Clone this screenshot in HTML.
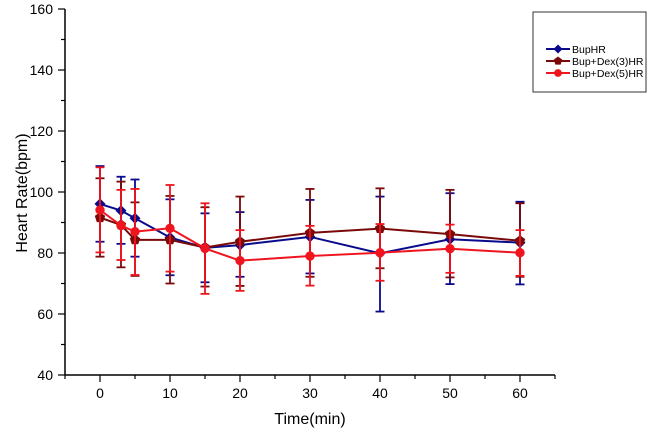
<!DOCTYPE html>
<html><head><meta charset="utf-8"><style>
html,body{margin:0;padding:0;background:#fff;}
svg{display:block;font-family:"Liberation Sans",Arial,sans-serif;}
</style></head><body>
<svg id="chart" width="650" height="433"></svg>
<script>
const times=[0,3,5,10,15,20,30,40,50,60];
const bupMean=[96.1,93.9,91.4,85.1,81.7,82.6,85.3,79.9,84.5,83.4];
const bupHi=[108.5,105,104.1,97.6,93,93.4,97.4,98.5,99.6,96.8];
const bupLo=[83.7,83,78.8,72.7,70.4,72.2,73.3,60.8,69.8,69.7];
const dex3Mean=[91.6,89.2,84.3,84.3,81.8,83.7,86.6,88,86.2,84];
const dex3Hi=[104.5,103.4,96.6,98.7,95,98.5,101,101.2,100.7,96.3];
const dex3Lo=[78.8,75.3,72.5,70,69,69.2,72.2,75,72,72.2];
const dex5Mean=[94.1,89,87,88.1,81.5,77.5,79,80.1,81.4,80.1];
const dex5Hi=[108.1,100.7,101,102.3,96.3,87.5,88.9,89.5,89.3,87.5];
const dex5Lo=[80.2,77.7,72.8,73.9,66.6,67.6,69.3,70.9,73.5,72.5];
const yTicks=[40,60,80,100,120,140,160];
const xTicks=[0,10,20,30,40,50,60];
const seriesNames=["BupHR","Bup+Dex(3)HR","Bup+Dex(5)HR"];

const NS="http://www.w3.org/2000/svg";
const svg=document.getElementById('chart');
const X=v=>100+(v)*7;
const Y=v=>375-(v-40)*3.05;
function mk(tag,attrs,parent){const e=document.createElementNS(NS,tag);for(const k in attrs)e.setAttribute(k,attrs[k]);(parent||svg).appendChild(e);return e;}

// axes
const ax=mk('g',{});


mk('line',{x1:65,y1:Y(160),x2:65,y2:375,stroke:'#000','stroke-width':1.5},ax);
mk('line',{x1:65,y1:375,x2:X(65),y2:375,stroke:'#000','stroke-width':1.5},ax);
for(let v=40;v<=160;v+=10){const maj=v%20===0;mk('line',{x1:maj?58:61,y1:Y(v),x2:65,y2:Y(v),stroke:'#000','stroke-width':1.2},ax);}
yTicks.forEach(v=>{const t=mk('text',{x:53,y:Y(v)+5,'text-anchor':'end','font-size':14},ax);t.textContent=v;

});
for(let v=-5;v<=65;v+=5){const maj=v%10===0;mk('line',{x1:X(v),y1:375,x2:X(v),y2:maj?382:379,stroke:'#000','stroke-width':1.2},ax);}
xTicks.forEach(v=>{const t=mk('text',{x:X(v),y:398,'text-anchor':'middle','font-size':14},ax);t.textContent=v;

});
const xt=mk('text',{x:310,y:424,'text-anchor':'middle','font-size':16});xt.textContent='Time(min)';


const yt=mk('text',{x:0,y:0,'text-anchor':'middle','font-size':16,transform:'translate(27,193) rotate(-90)'});yt.textContent='Heart Rate(bpm)';



function marker(g,shape,x,y,c,r){
  if(shape==='d') return mk('polygon',{points:`${x},${y-r} ${x+r},${y} ${x},${y+r} ${x-r},${y}`,fill:c},g);
  if(shape==='p'){let p=[];for(let i=0;i<5;i++){const a=-Math.PI/2+i*2*Math.PI/5;p.push((x+r*Math.cos(a)).toFixed(1)+','+(y+r*Math.sin(a)).toFixed(1));}return mk('polygon',{points:p.join(' '),fill:c},g);}
  return mk('circle',{cx:x,cy:y,r:r*0.85,fill:c},g);
}
const series=[
 {m:bupMean,h:bupHi,l:bupLo,c:'#0a0a8c',s:'d',n:'bup'},
 {m:dex3Mean,h:dex3Hi,l:dex3Lo,c:'#7a0a0a',s:'p',n:'dex3'},
 {m:dex5Mean,h:dex5Hi,l:dex5Lo,c:'#f0141e',s:'o',n:'dex5'}];
series.forEach(sr=>{
  const g=mk('g',{});
  
  
  times.forEach((t,i)=>{
    const x=X(t);
    mk('line',{x1:x,y1:Y(sr.h[i]),x2:x,y2:Y(sr.l[i]),stroke:sr.c,'stroke-width':1.8},g);
    mk('line',{x1:x-4.5,y1:Y(sr.h[i]),x2:x+4.5,y2:Y(sr.h[i]),stroke:sr.c,'stroke-width':1.8},g);
    mk('line',{x1:x-4.5,y1:Y(sr.l[i]),x2:x+4.5,y2:Y(sr.l[i]),stroke:sr.c,'stroke-width':1.8},g);
  });
  mk('polyline',{points:times.map((t,i)=>X(t)+','+Y(sr.m[i])).join(' '),fill:'none',stroke:sr.c,'stroke-width':2},g);
  times.forEach((t,i)=>{const p=marker(g,sr.s,X(t),Y(sr.m[i]),sr.c,5.5);
    
    });
});

// legend
const lg=mk('g',{});


mk('rect',{x:533,y:12,width:113,height:80,fill:'#fff',stroke:'#333','stroke-width':1},lg);
series.forEach((sr,i)=>{
  const y=49+i*12;
  const e=mk('g',{},lg);
  
  
  mk('line',{x1:546,y1:y,x2:570,y2:y,stroke:sr.c,'stroke-width':2},e);
  marker(e,sr.s,558,y,sr.c,4.5);
  const t=mk('text',{x:572,y:y+4,'font-size':10.5},e);t.textContent=seriesNames[i];
});
</script>
</body></html>
